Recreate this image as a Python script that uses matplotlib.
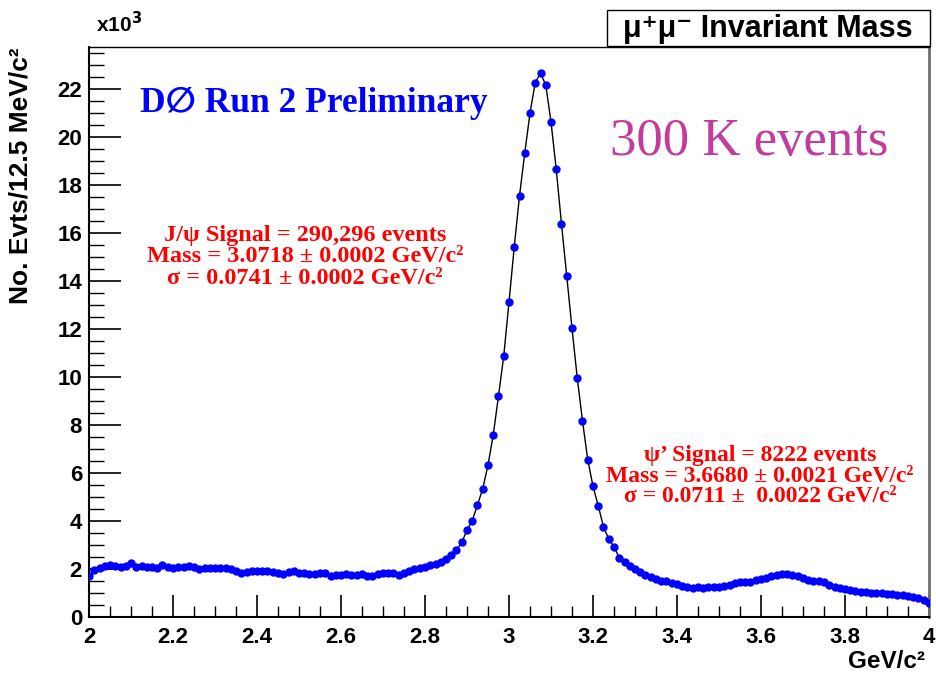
import numpy as np
import matplotlib
matplotlib.use('Agg')
import matplotlib.pyplot as plt
from matplotlib.ticker import MultipleLocator, FormatStrFormatter
from matplotlib.patches import Rectangle

plt.rcParams['font.family'] = ['Liberation Sans', 'DejaVu Sans']
serif = ['Liberation Serif', 'DejaVu Serif', 'DejaVu Sans']

# mu+mu- mass histogram, 12.5 MeV bins from 2 to 4 GeV, counts in units of 10^3
bin_width = 0.0125
counts = [
    1.72, 1.95, 2.06, 2.12, 2.15, 2.13, 2.10, 2.12, 2.24, 2.10,
    2.12, 2.09, 2.08, 2.05, 2.16, 2.08, 2.03, 2.07, 2.10, 2.12,
    2.08, 2.00, 2.04, 2.05, 2.03, 2.04, 2.05, 2.02, 1.90, 1.83,
    1.89, 1.92, 1.91, 1.93, 1.90, 1.89, 1.83, 1.80, 1.86, 1.92,
    1.85, 1.82, 1.78, 1.80, 1.85, 1.84, 1.72, 1.73, 1.76, 1.78,
    1.77, 1.76, 1.78, 1.72, 1.70, 1.78, 1.82, 1.84, 1.83, 1.76,
    1.82, 1.92, 1.98, 2.04, 2.10, 2.17, 2.22, 2.30, 2.43, 2.58,
    2.79, 3.11, 3.62, 4.02, 4.67, 5.35, 6.33, 7.59, 9.21, 10.88,
    13.12, 15.43, 17.54, 19.33, 21.00, 22.27, 22.66, 22.17, 20.63, 18.65,
    16.37, 14.20, 12.03, 9.96, 8.17, 6.55, 5.45, 4.63, 3.76, 3.25,
    2.92, 2.47, 2.29, 2.13, 1.98, 1.88, 1.76, 1.66, 1.60, 1.52,
    1.48, 1.42, 1.36, 1.30, 1.24, 1.22, 1.25, 1.22, 1.23, 1.24,
    1.24, 1.28, 1.33, 1.40, 1.45, 1.47, 1.44, 1.56, 1.58, 1.62,
    1.70, 1.77, 1.80, 1.78, 1.77, 1.72, 1.63, 1.56, 1.51, 1.52,
    1.45, 1.33, 1.27, 1.22, 1.18, 1.12, 1.09, 1.06, 1.05, 1.02,
    1.01, 0.99, 0.97, 0.95, 0.93, 0.90, 0.88, 0.84, 0.79, 0.69,
    0.58,
]
mass = 2.0 + bin_width * np.arange(len(counts))

jpsi_lines = ['J/ψ Signal = 290,296 events',
              'Mass = 3.0718 ± 0.0002 GeV/c²',
              'σ = 0.0741 ± 0.0002 GeV/c²']
psi2s_lines = ['ψ’ Signal = 8222 events',
               'Mass = 3.6680 ± 0.0021 GeV/c²',
               'σ = 0.0711 ±  0.0022 GeV/c²']

W, H = 937, 677
fig = plt.figure(figsize=(W / 100, H / 100), dpi=100)
ax = fig.add_axes([89 / W, 60 / H, 840 / W, 570 / H])

ax.plot(mass, counts, color='black', lw=1.0, zorder=2)
ax.plot(mass, counts, 'o', color='#0000ff', ms=5, zorder=3)

ax.set_xlim(2, 4)
ax.set_ylim(0, 23.75)
ax.xaxis.set_major_locator(MultipleLocator(0.2))
ax.xaxis.set_minor_locator(MultipleLocator(0.05))
ax.yaxis.set_major_locator(MultipleLocator(2))
ax.yaxis.set_minor_locator(MultipleLocator(0.5))
ax.xaxis.set_major_formatter(FormatStrFormatter('%g'))
ax.yaxis.set_major_formatter(FormatStrFormatter('%g'))

ax.tick_params(which='both', direction='in', top=False, right=False, labelsize=16)
ax.tick_params(axis='y', which='major', length=23, width=1.2, pad=5)
ax.tick_params(axis='y', which='minor', length=11, width=1)
ax.tick_params(axis='x', which='major', length=16, width=1.2, pad=7)
ax.tick_params(axis='x', which='minor', length=8, width=1)
for lbl in ax.get_xticklabels() + ax.get_yticklabels():
    lbl.set_fontweight('bold')

ax.spines['left'].set_linewidth(1.5)
ax.spines['bottom'].set_linewidth(1.5)
ax.spines['top'].set_linewidth(1.0)
ax.spines['right'].set_linewidth(2.0)
ax.spines['right'].set_color('#707070')

# axis titles in ROOT style
ax.text((21 - 89) / 840, 1.0, 'No. Evts/12.5 MeV/c²', transform=ax.transAxes,
        rotation=90, ha='center', va='top', fontsize=19, fontweight='bold')
fig.text(96 / W, 1 - 24 / H, r'x10$^{\mathbf{3}}$', ha='left', va='center',
         fontsize=15, fontweight='bold')
fig.text(925 / W, 1 - 661 / H, 'GeV/c²', ha='right', va='center', fontsize=17.5, fontweight='bold')

# title box
fig.patches.append(Rectangle((607 / W, 1 - 46 / H), 323 / W, 36 / H, transform=fig.transFigure,
                             facecolor='white', edgecolor='black', lw=1.0))
fig.text(768 / W, 1 - 29 / H, 'μ⁺μ⁻ Invariant Mass', ha='center', va='center',
         fontsize=22, fontweight='bold')

fig.text(140 / W, 1 - 103 / H, 'D∅ Run 2 Preliminary', ha='left', va='center',
         fontsize=25.5, fontweight='bold', color='#0000ff', family=serif)
fig.text(610 / W, 1 - 142 / H, '300 K events', ha='left', va='center',
         fontsize=38, color='#c23c9e', family=serif)

for i, line in enumerate(jpsi_lines):
    fig.text(305 / W, 1 - (236 + 21 * i) / H, line, ha='center', va='center',
             fontsize=17.5, fontweight='bold', color='#ff0000', family=serif)
for i, line in enumerate(psi2s_lines):
    fig.text(760 / W, 1 - (456 + 20 * i) / H, line, ha='center', va='center',
             fontsize=17, fontweight='bold', color='#ff0000', family=serif)

fig.savefig('out.png', dpi=100)
